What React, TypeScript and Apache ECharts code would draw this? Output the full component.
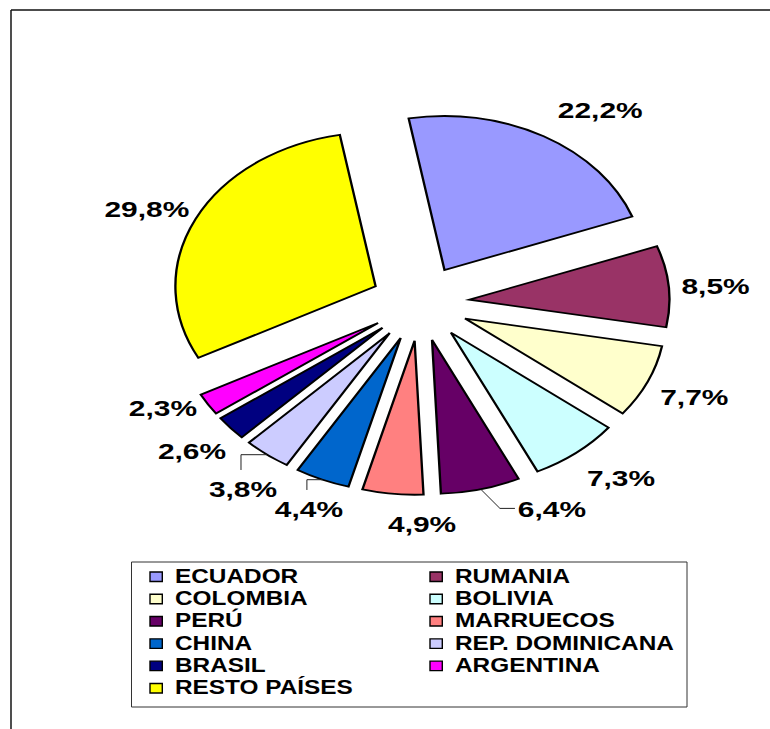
import React, { useEffect, useRef } from "react";
import * as echarts from "echarts";

// ---- data ----
const COUNTRIES = [
  "ECUADOR",
  "RUMANIA",
  "COLOMBIA",
  "BOLIVIA",
  "PERÚ",
  "MARRUECOS",
  "CHINA",
  "REP. DOMINICANA",
  "BRASIL",
  "ARGENTINA",
  "RESTO PAÍSES",
];
const SHARES = [22.2, 8.5, 7.7, 7.3, 6.4, 4.9, 4.4, 3.8, 2.6, 2.3, 29.8];
const COLORS = [
  "#9999FF",
  "#993366",
  "#FFFFCC",
  "#CCFFFF",
  "#660066",
  "#FF8080",
  "#0066CC",
  "#CCCCFF",
  "#000080",
  "#FF00FF",
  "#FFFF00",
];
const LABELS = SHARES.map((v) => v.toFixed(1).replace(".", ",") + "%");

// ---- layout (not data) ----
const CX = 420;
const CY = 303;
const R = 154;
const EXPLODE = 38;
const STRETCH = 1.3;
const START = 100.3;
const LABEL_R = [237.6, 228, 231, 233.5, 230, 221, 223, 230.5, 230, 224, 230];
const LABEL_NUDGE = [-6.0, -0.7, 0.2, 2.7, 12.1, 6.7, 0.5, 1.6, -0.35, -3.8, 2.0];
const LEADER = ["", "", "", "", "side", "", "down", "down", "", "", ""];
const LABEL_FONT = 'bold 22.5px "Liberation Sans", Arial, sans-serif';
const LEGEND_FONT = 'bold 19.5px "Liberation Sans", Arial, sans-serif';

const TOTAL = SHARES.reduce((a, b) => a + b, 0);
const CUM: number[] = [];
SHARES.reduce((acc, v, i) => {
  CUM[i] = acc;
  return acc + v;
}, 0);

const rad = (d: number) => (d * Math.PI) / 180;

export default function App() {
  const ref = useRef<HTMLDivElement>(null);

  useEffect(() => {
    if (!ref.current) return;
    const chart = echarts.init(ref.current, null, { renderer: "svg" });

    const legendGraphics: any[] = [
      {
        type: "rect",
        shape: { x: 131.5, y: 562, width: 555.5, height: 145 },
        style: { fill: "#fff", stroke: "#333", lineWidth: 1 },
        z: 1,
      },
    ];
    COUNTRIES.forEach((name, i) => {
      const col = i % 2;
      const row = Math.floor(i / 2);
      const x0 = col === 0 ? 150 : 430;
      const y = 576.7 + row * 22.3;
      legendGraphics.push({
        type: "rect",
        shape: { x: x0, y: y - 4.75, width: 12.3, height: 9.5 },
        style: { fill: COLORS[i], stroke: "#000", lineWidth: 1.4 },
        z: 2,
      });
      legendGraphics.push({
        type: "text",
        x: x0 + 25,
        y: y - 0.5,
        scaleX: 1.25,
        style: {
          text: name,
          font: LEGEND_FONT,
          fill: "#000",
          verticalAlign: "middle",
          align: "left",
        },
        z: 2,
      });
    });

    const option: any = {
      animation: false,
      backgroundColor: "#fff",
      graphic: [
        {
          type: "line",
          shape: { x1: 11, y1: 10, x2: 11, y2: 760 },
          style: { stroke: "#222", lineWidth: 1.6 },
        },
        {
          type: "line",
          shape: { x1: 11, y1: 10, x2: 790, y2: 10 },
          style: { stroke: "#111", lineWidth: 1.4 },
        },
        ...legendGraphics,
      ],
      series: [
        {
          type: "custom",
          coordinateSystem: "none",
          data: COUNTRIES.map((n, i) => ({ name: n, value: SHARES[i] })),
          renderItem: (params: any, api: any) => {
            const i = params.dataIndex;
            const v = api.value(0);
            const a0 = START - (CUM[i] / TOTAL) * 360;
            const a1 = a0 - (v / TOTAL) * 360;
            const mid = (a0 + a1) / 2;
            const ox = EXPLODE * Math.cos(rad(mid));
            const oy = -EXPLODE * Math.sin(rad(mid));
            const children: any[] = [];
            children.push({
              type: "group",
              x: CX,
              y: CY,
              scaleX: STRETCH,
              children: [
                {
                  type: "sector",
                  shape: {
                    cx: ox,
                    cy: oy,
                    r: R,
                    r0: 0,
                    startAngle: -rad(a0),
                    endAngle: -rad(a1),
                    clockwise: true,
                  },
                  style: {
                    fill: COLORS[i],
                    stroke: "#000",
                    lineWidth: 1.8,
                    strokeNoScale: true,
                  },
                },
              ],
            });
            const la = rad(mid + LABEL_NUDGE[i]);
            const lx = CX + STRETCH * LABEL_R[i] * Math.cos(la);
            const ly = CY - LABEL_R[i] * Math.sin(la);
            children.push({
              type: "text",
              x: lx,
              y: ly,
              scaleX: 1.33,
              style: {
                text: LABELS[i],
                font: LABEL_FONT,
                fill: "#000",
                align: "center",
                verticalAlign: "middle",
              },
            });
            const ar = EXPLODE + R;
            const ax = CX + STRETCH * ar * Math.cos(rad(mid));
            const ay = CY - ar * Math.sin(rad(mid));
            if (LEADER[i] === "side") {
              children.push({
                type: "polyline",
                shape: {
                  points: [
                    [ax, ay],
                    [lx - 52, ly - 1],
                    [lx - 37, ly - 1],
                  ],
                },
                style: { stroke: "#222", lineWidth: 1, fill: null },
              });
            } else if (LEADER[i] === "down") {
              children.push({
                type: "polyline",
                shape: {
                  points: [
                    [ax, ay],
                    [lx - 2, ay],
                    [lx - 2, ly - 19],
                  ],
                },
                style: { stroke: "#222", lineWidth: 1, fill: null },
              });
            }
            return { type: "group", children };
          },
        },
      ],
    };

    chart.setOption(option);
    return () => chart.dispose();
  }, []);

  return (
    <div
      ref={ref}
      style={{ position: "fixed", left: 0, top: 0, width: 770, height: 729 }}
    />
  );
}
